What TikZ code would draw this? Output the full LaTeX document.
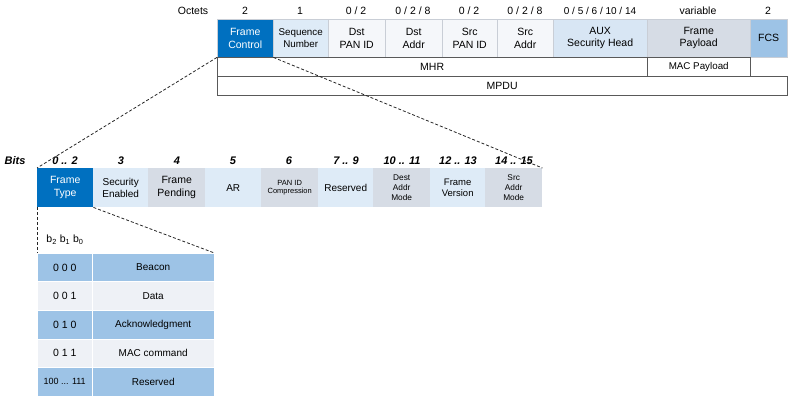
\documentclass[tikz,border=0pt]{standalone}
\usepackage{fontspec}
\setmainfont{Liberation Sans}
\usetikzlibrary{calc,positioning}
\definecolor{FieldDark}{HTML}{0070C0}
\definecolor{FieldLight}{HTML}{DEEBF7}
\definecolor{FieldAux}{HTML}{D8E6F4}
\definecolor{FieldGrey}{HTML}{D6DCE5}
\definecolor{FieldWhite}{HTML}{F5F7FA}
\definecolor{FieldMid}{HTML}{9DC3E6}
\definecolor{RowPale}{HTML}{EEF1F6}
\definecolor{CellLine}{HTML}{C9CED6}

\begin{document}
\begin{tikzpicture}[x=1pt, y=-1pt,
                    field/.style = { anchor=north west, inner sep=0pt, minimum height=38pt, align=center,
                                     draw=CellLine, fill=FieldWhite, font=\fontsize{10.5}{12.5}\selectfont },
                    rowframe/.style = { anchor=north west, inner sep=0pt, minimum height=19pt, draw=black!65,
                                        font=\fontsize{10.5}{12}\selectfont },
                    bitfield/.style = { anchor=north west, inner sep=0pt, minimum height=39pt, minimum width=56pt,
                                        align=center, fill=FieldLight, font=\fontsize{10}{12}\selectfont },
                    smalltext/.style = { font=\fontsize{8.3}{10}\selectfont },
                    tinytext/.style = { font=\fontsize{7.5}{9}\selectfont },
                    octet/.style = { font=\fontsize{10.5}{12}\selectfont },
                    bitno/.style = { font=\fontsize{11}{12}\selectfont\bfseries\itshape },
                    typecode/.style = { anchor=north west, inner sep=0pt, minimum height=28.5pt, minimum width=55pt,
                                        draw=white, font=\fontsize{10.5}{12}\selectfont },
                    typename/.style = { typecode, minimum width=122pt, font=\fontsize{10}{12}\selectfont },
                    zoomline/.style = { densely dashed, line width=0.8pt, black!85 }]

  \useasboundingbox (0,0) rectangle (795,403);

  % octets
  \node (octlabel) at(193,11) [octet] {Octets};
  \node (ofc)   at(245,11) [octet] {2};
  \node (osn)   at(300,11) [octet] {1};
  \node (odpan) at(356,11) [octet] {0 / 2};
  \node (odadr) at(413,11) [octet] {0 / 2 / 8};
  \node (ospan) at(469,11) [octet] {0 / 2};
  \node (osadr) at(525,11) [octet] {0 / 2 / 8};
  \node (oaux)  at(600,11) [octet, font=\fontsize{10}{12}\selectfont] {0 / 5 / 6 / 10 / 14};
  \node (opay)  at(698,11) [octet] {variable};
  \node (ofcs)  at(768,11) [octet] {2};

  \node (fc)   at(217,19) [field, fill=FieldDark, text=white, minimum width=56pt] {Frame\\Control};
  \node (sn)   at(273,19) [field, fill=FieldLight, minimum width=55pt, font=\fontsize{9.8}{11.5}\selectfont] {Sequence\\Number};
  \node (dpan) at(328,19) [field, minimum width=57pt] {Dst\\PAN ID};
  \node (dadr) at(385,19) [field, minimum width=57pt] {Dst\\Addr};
  \node (span) at(442,19) [field, minimum width=55pt] {Src\\PAN ID};
  \node (sadr) at(497,19) [field, minimum width=56pt] {Src\\Addr};
  \node (aux)  at(553,19) [field, fill=FieldAux, minimum width=94pt] {AUX\\Security Head};
  \node (pay)  at(647,19) [field, fill=FieldGrey, minimum width=103pt] {Frame\\Payload};
  \node (fcs)  at(750,19) [field, fill=FieldMid, minimum width=37pt] {FCS};

  \node (mhr)  at(217,57) [rowframe, minimum width=430pt] {MHR};
  \node (macp) at(647,57) [rowframe, minimum width=103pt, font=\fontsize{9.8}{12}\selectfont] {MAC Payload};
  \node (mpdu) at(217,76) [rowframe, minimum width=570pt] {MPDU};

  % bits
  \node (bitlabel) at(15,161) [bitno] {Bits};
  \node (b0) at(65,161)  [bitno] {0 .. 2};
  \node (b3) at(121,161) [bitno] {3};
  \node (b4) at(177,161) [bitno] {4};
  \node (b5) at(233,161) [bitno] {5};
  \node (b6) at(289,161) [bitno] {6};
  \node (b7) at(346,161) [bitno] {7 .. 9};
  \node (b10) at(402,161) [bitno] {10 .. 11};
  \node (b12) at(458,161) [bitno] {12 .. 13};
  \node (b14) at(514,161) [bitno] {14 .. 15};

  \node (ft)   at(37,168)  [bitfield, fill=FieldDark, text=white, font=\fontsize{10.5}{12.5}\selectfont] {Frame\\Type};
  \node (sec)  at(93,168)  [bitfield, minimum width=55pt] {Security\\Enabled};
  \node (pend) at(148,168) [bitfield, fill=FieldGrey, minimum width=57pt, font=\fontsize{10.5}{12.5}\selectfont] {Frame\\Pending};
  \node (ar)   at(205,168) [bitfield, minimum width=56pt] {AR};
  \node (panc) at(261,168) [bitfield, fill=FieldGrey, minimum width=57pt, tinytext] {PAN ID\\Compression};
  \node (res)  at(318,168) [bitfield, minimum width=55pt] {Reserved};
  \node (dam)  at(373,168) [bitfield, fill=FieldGrey, minimum width=57pt, smalltext] {Dest\\Addr\\Mode};
  \node (fv)   at(430,168) [bitfield, minimum width=55pt, font=\fontsize{9.5}{11.5}\selectfont] {Frame\\Version};
  \node (sam)  at(485,168) [bitfield, fill=FieldGrey, minimum width=57pt, smalltext] {Src\\Addr\\Mode};

  % frame types
  \node (hdr) at(65,240) [font=\fontsize{10.5}{12}\selectfont] {b\textsubscript{2} b\textsubscript{1} b\textsubscript{0}};
  \node (c000) at(37,253)   [typecode, fill=FieldMid] {0 0 0};
  \node (n000) at(92,253)   [typename, fill=FieldMid] {Beacon};
  \node (c001) at(37,281.5) [typecode, fill=RowPale] {0 0 1};
  \node (n001) at(92,281.5) [typename, fill=RowPale] {Data};
  \node (c010) at(37,310)   [typecode, fill=FieldMid] {0 1 0};
  \node (n010) at(92,310)   [typename, fill=FieldMid] {Acknowledgment};
  \node (c011) at(37,338.5) [typecode, fill=RowPale] {0 1 1};
  \node (n011) at(92,338.5) [typename, fill=RowPale] {MAC command};
  \node (c100) at(37,367)   [typecode, fill=FieldMid, font=\fontsize{9}{11}\selectfont] {100 ... 111};
  \node (n100) at(92,367)   [typename, fill=FieldMid] {Reserved};

  \draw [zoomline] (fc.south west) -- (ft.north west);
  \draw [zoomline] (fc.south east) -- (sam.north east);
  \draw [zoomline] (ft.south west) -- (c000.north west);
  \draw [zoomline] (ft.south east) -- (n000.north east);
\end{tikzpicture}
\end{document}
